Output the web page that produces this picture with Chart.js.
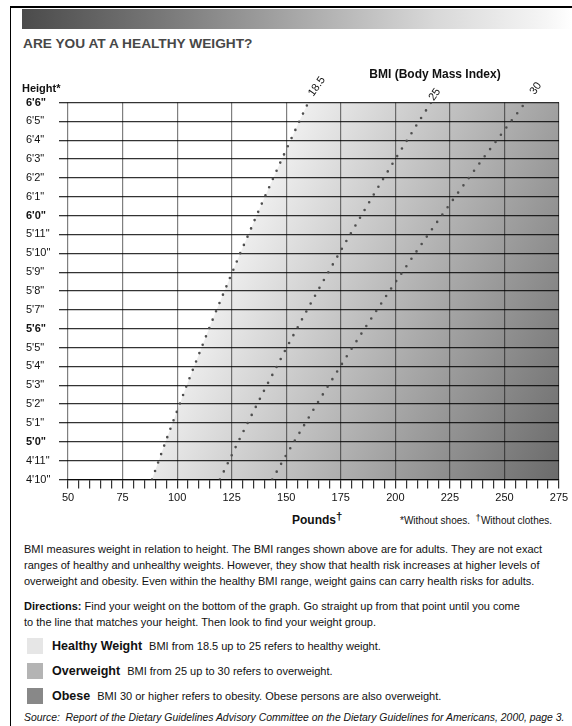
<!DOCTYPE html>
<html><head><meta charset="utf-8">
<script src="https://cdn.jsdelivr.net/npm/chart.js@4.4.1/dist/chart.umd.min.js"></script>
<style>
html,body{margin:0;padding:0;background:#fff;}
body{width:572px;height:726px;position:relative;overflow:hidden;font-family:"Liberation Sans",Arial,sans-serif;color:#111;}
#frameTop{position:absolute;left:10px;top:6px;width:562px;height:1.5px;background:#000;}
#frameLeft{position:absolute;left:9.5px;top:6px;width:1.5px;height:720px;background:#000;}
#band{position:absolute;left:22px;top:9px;width:550px;height:20px;background:linear-gradient(to right,#4b4b4b 0%,#777 25%,#a8a8a8 50%,#d8d8d8 75%,#f5f5f5 95%,#fff 100%);}
#chartBox{position:absolute;left:0;top:0;width:572px;height:510px;}
.t{position:absolute;white-space:nowrap;}
#title{left:23px;top:36px;font-size:13.7px;font-weight:bold;color:#474747;line-height:16px;}
#hLab{left:22px;top:81px;font-size:11px;font-weight:bold;line-height:14px;}
#bmiTitle{left:435px;top:67px;transform:translateX(-50%);font-size:12px;font-weight:bold;line-height:14px;}
.bmiv{font-size:11px;line-height:12px;transform:translate(-50%,-50%) rotate(-55deg);}
#pounds{left:292px;top:512px;font-size:12px;font-weight:bold;line-height:16px;}
#pounds sup,#notes sup{font-size:0.95em;line-height:0;vertical-align:0.35em;}
#notes{left:400px;top:514px;font-size:10px;line-height:14px;}
.p{left:24px;font-size:11px;line-height:16px;}
.sw{position:absolute;left:27px;width:16px;height:16px;}
.lg{left:52px;font-size:11px;line-height:18px;}
.lg b{font-size:12.5px;margin-right:4px;}
#src{left:24px;top:711px;font-size:10.4px;font-style:italic;line-height:14px;}
</style></head>
<body>
<div id="frameTop"></div><div id="frameLeft"></div>
<div id="band"></div>
<div class="t" id="title">ARE YOU AT A HEALTHY WEIGHT?</div>
<div id="chartBox"><canvas id="c" width="572" height="510"></canvas></div>
<div class="t" id="hLab">Height*</div>
<div class="t" id="bmiTitle">BMI (Body Mass Index)</div>
<div class="t bmiv" style="left:316px;top:86px;">18.5</div>
<div class="t bmiv" style="left:434px;top:94px;">25</div>
<div class="t bmiv" style="left:535px;top:88px;">30</div>
<div class="t" id="pounds">Pounds<sup>†</sup></div>
<div class="t" id="notes">*Without shoes.&nbsp; <sup>†</sup>Without clothes.</div>
<div class="t p" style="top:541px;">BMI measures weight in relation to height. The BMI ranges shown above are for adults. They are not exact<br>ranges of healthy and unhealthy weights. However, they show that health risk increases at higher levels of<br>overweight and obesity. Even within the healthy BMI range, weight gains can carry health risks for adults.</div>
<div class="t p" style="top:598px;"><b>Directions:</b> Find your weight on the bottom of the graph. Go straight up from that point until you come<br>to the line that matches your height. Then look to find your weight group.</div>
<div class="sw" style="top:638px;background:#e6e6e6;"></div>
<div class="sw" style="top:663px;background:#b4b4b4;"></div>
<div class="sw" style="top:688px;background:#888;"></div>
<div class="t lg" style="top:637px;"><b>Healthy Weight</b> BMI from 18.5 up to 25 refers to healthy weight.</div>
<div class="t lg" style="top:662px;"><b>Overweight</b> BMI from 25 up to 30 refers to overweight.</div>
<div class="t lg" style="top:687px;"><b>Obese</b> BMI 30 or higher refers to obesity. Obese persons are also overweight.</div>
<div class="t" id="src">Source:&nbsp; Report of the Dietary Guidelines Advisory Committee on the Dietary Guidelines for Americans, 2000, page 3.</div>
<script>
const heightInches = [58,59,60,61,62,63,64,65,66,67,68,69,70,71,72,73,74,75,76,77,78];
const heightLabels = ['4\'10"','4\'11"','5\'0"','5\'1"','5\'2"','5\'3"','5\'4"','5\'5"','5\'6"','5\'7"','5\'8"','5\'9"','5\'10"','5\'11"','6\'0"','6\'1"','6\'2"','6\'3"','6\'4"','6\'5"','6\'6"'];
const boldHeights = [60,66,72,78];
const weightTicks = [50,75,100,125,150,175,200,225,250,275];
const bmiLabels = ['18.5','25','30'];
// weight (lbs) of each BMI line at each height
const bmi185 = [88.5,91.6,94.7,97.9,101.2,104.4,107.8,111.2,114.6,118.1,121.7,125.3,128.9,132.7,136.4,140.2,144.1,148.0,152.0,156.0,160.1];
const bmi25  = [119.6,123.8,128.0,132.3,136.7,141.1,145.7,150.2,154.9,159.6,164.4,169.3,174.3,179.3,184.4,189.5,194.7,200.0,205.4,210.8,216.4];
const bmi30  = [143.6,148.5,153.6,158.8,164.0,169.4,174.8,180.3,185.9,191.6,197.3,203.2,209.1,215.1,221.2,227.4,233.7,240.0,246.5,253.0,259.6];

const FAM = '"Liberation Sans", Arial, sans-serif';
const wMin = weightTicks[0], wMax = weightTicks[weightTicks.length-1];
const hMin = heightInches[0], hMax = heightInches[heightInches.length-1];
const pts = arr => heightInches.map((h,i)=>({x:arr[i], y:h}));

const shapeData = pts(bmi185).concat([{x:wMax,y:hMax},{x:wMax,y:hMin}]);

function shade(ctx){
  const ch = ctx.chart;
  if (!ch.chartArea) return '#cccccc';
  const g = ch.ctx.createLinearGradient(273,128,644,302);
  g.addColorStop(0,'rgb(245,245,245)');
  g.addColorStop(1,'rgb(106,106,106)');
  return g;
}
const dotted = (arr,label) => ({
  label, data: pts(arr), borderColor:'#4f4f4f', borderWidth:2.6, borderDash:[0,9],
  borderCapStyle:'round', pointRadius:0, fill:false, tension:0
});

new Chart(document.getElementById('c'), {
  type:'line',
  data:{datasets:[
    {label:'shade', data:shapeData, fill:'shape', borderColor:'rgba(0,0,0,0)', backgroundColor:shade, pointRadius:0, tension:0},
    dotted(bmi185,bmiLabels[0]), dotted(bmi25,bmiLabels[1]), dotted(bmi30,bmiLabels[2])
  ]},
  options:{
    responsive:false, animation:false, events:[],
    layout:{padding:{left:26,right:13,top:102.5,bottom:0}},
    plugins:{legend:{display:false}, tooltip:{enabled:false}, filler:{drawTime:'beforeDraw', propagate:false}},
    scales:{
      x:{type:'linear', min:wMin, max:wMax,
        afterFit:s=>{s.height=30.5;},
        ticks:{stepSize:5, autoSkip:false, maxRotation:0, padding:3, color:'#111', font:{size:11,family:FAM},
          callback:v=> weightTicks.includes(v) ? String(v) : ''},
        grid:{color:c=> (c.tick && weightTicks.includes(c.tick.value)) ? 'rgba(0,0,0,0.5)' : 'rgba(0,0,0,0)',
          tickColor:'#333', tickLength:9, lineWidth:1.2, drawTicks:true},
        border:{display:true, color:'rgba(0,0,0,0.8)', width:1.3}
      },
      y:{type:'linear', min:hMin, max:hMax,
        afterFit:s=>{s.width=42;},
        ticks:{stepSize:1, autoSkip:false, crossAlign:'far', padding:4, color:'#111',
          font:c=>({size:11, family:FAM, weight: (c.tick && boldHeights.includes(c.tick.value)) ? 'bold':'normal'}),
          callback:v=> heightLabels[heightInches.indexOf(v)]},
        grid:{color:'rgba(0,0,0,0.8)', tickColor:'rgba(0,0,0,0.8)', tickLength:9, lineWidth:1.3},
        border:{display:false}
      }
    }
  }
});
</script>
</body></html>
